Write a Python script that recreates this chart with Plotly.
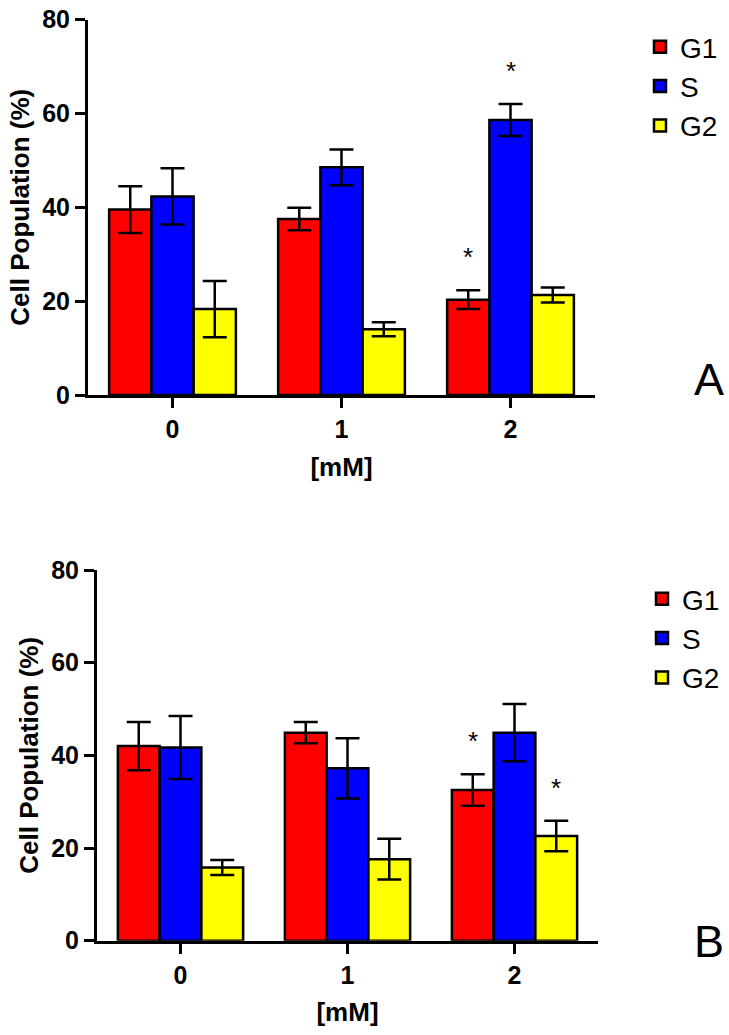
import plotly.graph_objects as go

# ---------------- data ----------------
doses = ["0", "1", "2"]
phases = ["G1", "S", "G2"]
colors = ["#FF0000", "#0000FF", "#FFFF00"]

# Panel A
a_g1 = [39.5, 37.5, 20.3]
a_g1_err = [5.0, 2.4, 2.0]
a_s = [42.3, 48.5, 58.6]
a_s_err = [6.0, 3.8, 3.4]
a_g2 = [18.3, 14.0, 21.3]
a_g2_err = [6.0, 1.5, 1.6]
a_sig = [("G1", 2), ("S", 2)]

# Panel B
b_g1 = [42.0, 44.9, 32.5]
b_g1_err = [5.2, 2.3, 3.4]
b_s = [41.7, 37.2, 44.9]
b_s_err = [6.8, 6.5, 6.2]
b_g2 = [15.8, 17.6, 22.6]
b_g2_err = [1.6, 4.4, 3.3]
b_sig = [("G1", 2), ("G2", 2)]

panel_letters = ["A", "B"]
y_ticks = [0, 20, 40, 60, 80]

# ---------------- figure ----------------
FONT = "Liberation Sans, Arial, sans-serif"
NARROW = "Liberation Sans Narrow, Liberation Sans, Arial, sans-serif"
BAR_W = 0.25

fig = go.Figure()
xpos = list(range(len(doses)))

panels = [
    dict(vals=[a_g1, a_s, a_g2], errs=[a_g1_err, a_s_err, a_g2_err], sig=a_sig,
         xa="x", ya="y", legend="legend"),
    dict(vals=[b_g1, b_s, b_g2], errs=[b_g1_err, b_s_err, b_g2_err], sig=b_sig,
         xa="x2", ya="y2", legend="legend2"),
]

annotations = []
for p in panels:
    for k, (ph, col) in enumerate(zip(phases, colors)):
        fig.add_trace(go.Bar(
            x=xpos, y=p["vals"][k], name=ph,
            marker=dict(color=col, line=dict(color="black", width=2.5)),
            error_y=dict(type="data", array=p["errs"][k], visible=True,
                         color="black", thickness=2.5, width=12),
            xaxis=p["xa"], yaxis=p["ya"], legend=p["legend"],
            legendgroup=p["legend"] + ph,
        ))
    for ph, d in p["sig"]:
        k = phases.index(ph)
        annotations.append(dict(
            x=d + (k - 1) * BAR_W, y=p["vals"][k][d] + p["errs"][k][d],
            xref=p["xa"], yref=p["ya"], text="*", showarrow=False,
            yanchor="bottom", yshift=16,
            font=dict(family=FONT, size=26, color="black"),
        ))

axis_common = dict(
    showline=True, linecolor="black", linewidth=3,
    ticks="outside", ticklen=10, tickwidth=3, tickcolor="black",
    showgrid=False, zeroline=False, automargin=False,
    tickfont=dict(family=FONT, size=25, color="black", weight="bold"),
)
xaxis_common = dict(axis_common, range=[-0.5, 2.5], tickvals=xpos, ticktext=doses,
                    title=dict(text="[mM]", standoff=16,
                               font=dict(family=FONT, size=26, color="black", weight="bold")))
yaxis_common = dict(axis_common, range=[0, 80], tickvals=y_ticks,
                    title=dict(text="Cell Population (%)", standoff=6,
                               font=dict(family=FONT, size=26, color="black", weight="bold")))

for letter, yc in zip(panel_letters, [1 - 379 / 1035, 1 - 941 / 1035]):
    annotations.append(dict(
        x=709 / 729, y=yc, xref="paper", yref="paper", text=letter, showarrow=False,
        xanchor="center", yanchor="middle",
        font=dict(family=FONT, size=45, color="black"),
    ))

legend_common = dict(
    font=dict(family=NARROW, size=28, color="black"),
    bgcolor="rgba(0,0,0,0)", borderwidth=0,
    xanchor="left", yanchor="top", traceorder="normal",
)

fig.update_layout(
    width=729, height=1035,
    margin=dict(l=0, r=0, t=0, b=0, autoexpand=False),
    paper_bgcolor="white", plot_bgcolor="white",
    barmode="group", bargap=0.25, bargroupgap=0,
    xaxis=dict(xaxis_common, domain=[88 / 729, 595 / 729], anchor="y"),
    yaxis=dict(yaxis_common, domain=[1 - 395 / 1035, 1 - 19.5 / 1035], anchor="x"),
    xaxis2=dict(xaxis_common, domain=[97 / 729, 598 / 729], anchor="y2"),
    yaxis2=dict(yaxis_common, domain=[1 - 940.7 / 1035, 1 - 570 / 1035], anchor="x2"),
    legend=dict(legend_common, x=640 / 729, y=1 - 22 / 1035, tracegroupgap=10),
    legend2=dict(legend_common, x=642 / 729, y=1 - 574 / 1035, tracegroupgap=6),
    annotations=annotations,
    showlegend=True,
)

fig.write_html("out.html",
               config={"displayModeBar": False},
               post_script="document.body.style.margin='0px';document.body.style.overflow='hidden';")
